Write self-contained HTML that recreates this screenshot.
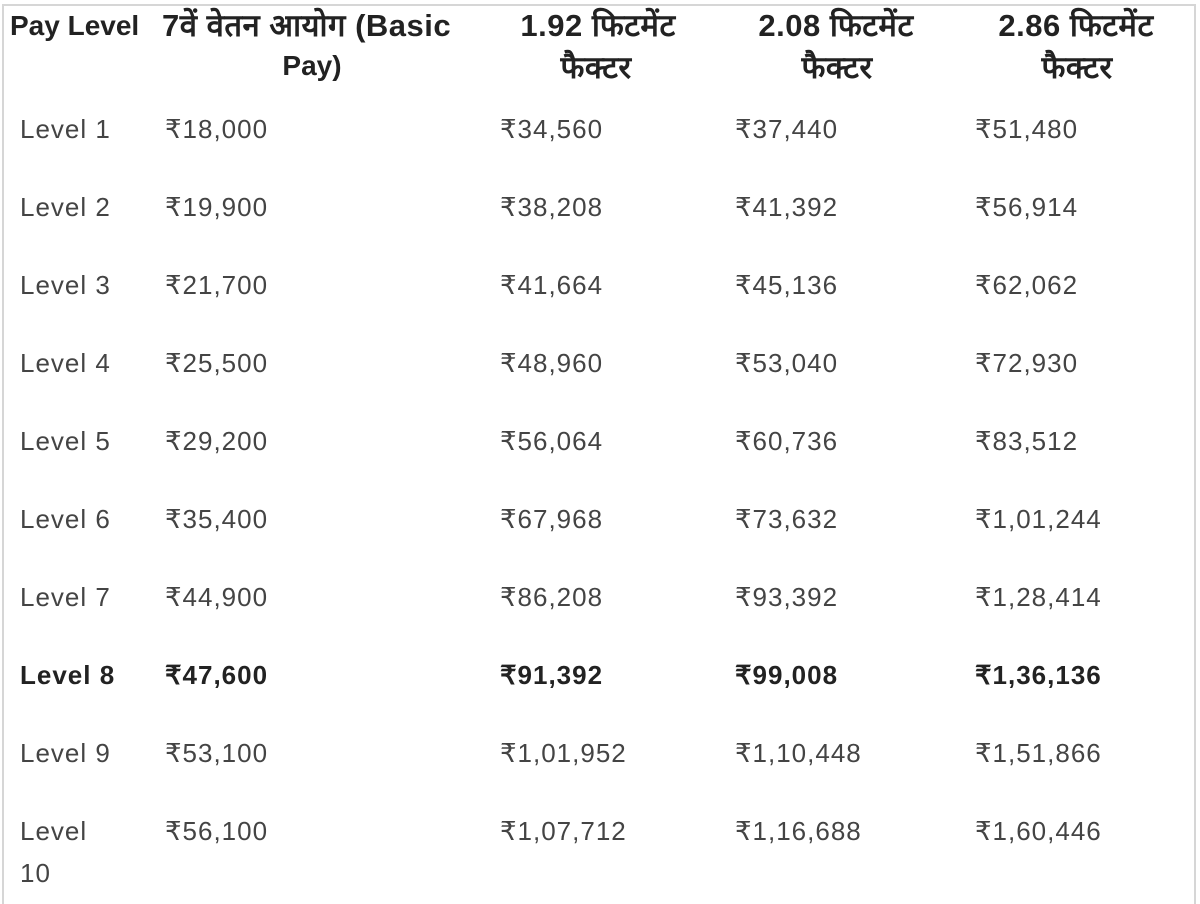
<!DOCTYPE html>
<html><head><meta charset="utf-8"><style>
body{margin:0;width:1200px;height:900px;background:#fff;position:relative;overflow:hidden;font-family:"Liberation Sans","Noto Sans CJK SC",sans-serif}
.frame{position:absolute;left:2px;top:4px;width:1194px;height:900px;border:2px solid #d6d6d6;border-bottom:none;box-sizing:border-box}
.t{position:absolute;white-space:nowrap;line-height:1}
.h{font-weight:bold;color:#222;font-size:28px}
.d{font-size:31px;letter-spacing:0.5px}
.c{transform:translateX(-50%)}
.b{color:#444;font-size:26px;letter-spacing:1px}
.bb{color:#222;font-size:26px;font-weight:bold;letter-spacing:1px}
</style></head><body>
<div class="frame"></div>
<div class="t h" style="left:10px;top:12px">Pay Level</div>
<div class="t h d" style="left:162px;top:10px">7वें वेतन आयोग (Basic</div>
<div class="t h c" style="left:312px;top:52px">Pay)</div>
<div class="t h d c" style="left:598px;top:10px">1.92 फिटमेंट</div>
<div class="t h d c" style="left:596px;top:52px">फैक्टर</div>
<div class="t h d c" style="left:836px;top:10px">2.08 फिटमेंट</div>
<div class="t h d c" style="left:837px;top:52px">फैक्टर</div>
<div class="t h d c" style="left:1076px;top:10px">2.86 फिटमेंट</div>
<div class="t h d c" style="left:1077px;top:52px">फैक्टर</div>
<div class="t b" style="left:20px;top:116px">Level 1</div><div class="t b" style="left:165px;top:116px">₹18,000</div><div class="t b" style="left:500px;top:116px">₹34,560</div><div class="t b" style="left:735px;top:116px">₹37,440</div><div class="t b" style="left:975px;top:116px">₹51,480</div>
<div class="t b" style="left:20px;top:194px">Level 2</div><div class="t b" style="left:165px;top:194px">₹19,900</div><div class="t b" style="left:500px;top:194px">₹38,208</div><div class="t b" style="left:735px;top:194px">₹41,392</div><div class="t b" style="left:975px;top:194px">₹56,914</div>
<div class="t b" style="left:20px;top:272px">Level 3</div><div class="t b" style="left:165px;top:272px">₹21,700</div><div class="t b" style="left:500px;top:272px">₹41,664</div><div class="t b" style="left:735px;top:272px">₹45,136</div><div class="t b" style="left:975px;top:272px">₹62,062</div>
<div class="t b" style="left:20px;top:350px">Level 4</div><div class="t b" style="left:165px;top:350px">₹25,500</div><div class="t b" style="left:500px;top:350px">₹48,960</div><div class="t b" style="left:735px;top:350px">₹53,040</div><div class="t b" style="left:975px;top:350px">₹72,930</div>
<div class="t b" style="left:20px;top:428px">Level 5</div><div class="t b" style="left:165px;top:428px">₹29,200</div><div class="t b" style="left:500px;top:428px">₹56,064</div><div class="t b" style="left:735px;top:428px">₹60,736</div><div class="t b" style="left:975px;top:428px">₹83,512</div>
<div class="t b" style="left:20px;top:506px">Level 6</div><div class="t b" style="left:165px;top:506px">₹35,400</div><div class="t b" style="left:500px;top:506px">₹67,968</div><div class="t b" style="left:735px;top:506px">₹73,632</div><div class="t b" style="left:975px;top:506px">₹1,01,244</div>
<div class="t b" style="left:20px;top:584px">Level 7</div><div class="t b" style="left:165px;top:584px">₹44,900</div><div class="t b" style="left:500px;top:584px">₹86,208</div><div class="t b" style="left:735px;top:584px">₹93,392</div><div class="t b" style="left:975px;top:584px">₹1,28,414</div>
<div class="t bb" style="left:20px;top:662px">Level 8</div><div class="t bb" style="left:165px;top:662px">₹47,600</div><div class="t bb" style="left:500px;top:662px">₹91,392</div><div class="t bb" style="left:735px;top:662px">₹99,008</div><div class="t bb" style="left:975px;top:662px">₹1,36,136</div>
<div class="t b" style="left:20px;top:740px">Level 9</div><div class="t b" style="left:165px;top:740px">₹53,100</div><div class="t b" style="left:500px;top:740px">₹1,01,952</div><div class="t b" style="left:735px;top:740px">₹1,10,448</div><div class="t b" style="left:975px;top:740px">₹1,51,866</div>
<div class="t b" style="left:20px;top:818px">Level</div><div class="t b" style="left:20px;top:860px">10</div><div class="t b" style="left:165px;top:818px">₹56,100</div><div class="t b" style="left:500px;top:818px">₹1,07,712</div><div class="t b" style="left:735px;top:818px">₹1,16,688</div><div class="t b" style="left:975px;top:818px">₹1,60,446</div>
</body></html>
